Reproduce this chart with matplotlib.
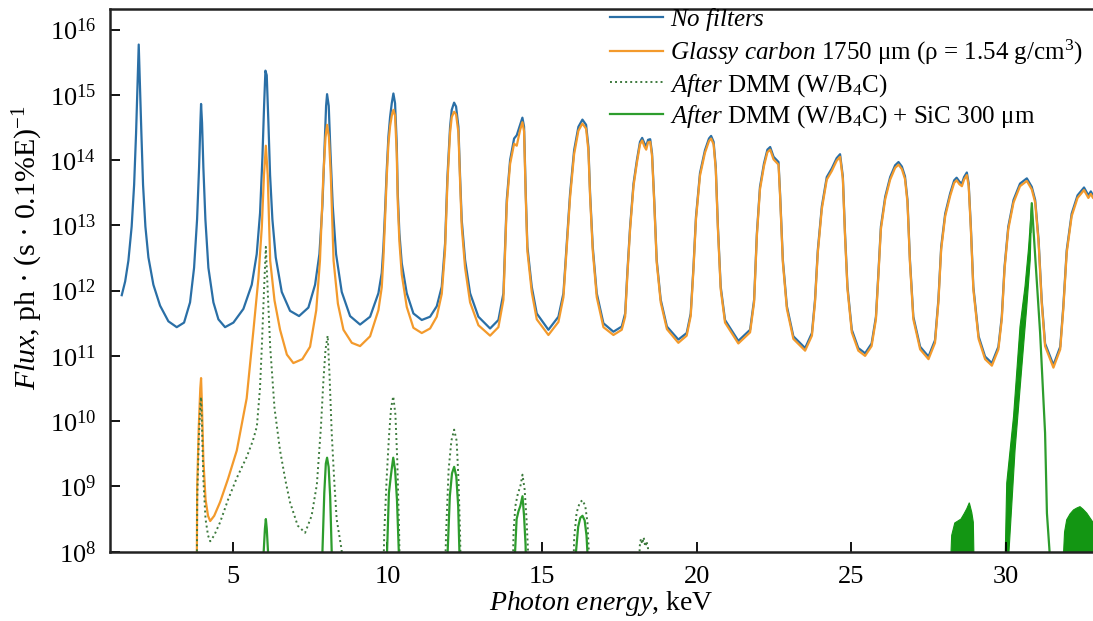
import matplotlib
matplotlib.use("Agg")
import matplotlib.pyplot as plt
import numpy as np

plt.rcParams['font.family'] = ['Liberation Serif', 'DejaVu Serif']
plt.rcParams['mathtext.fontset'] = 'custom'
plt.rcParams['mathtext.rm'] = 'Liberation Serif'
plt.rcParams['mathtext.it'] = 'Liberation Serif:italic'

NAN = float('nan')

# photon energy (keV) and log10 of flux, ph/(s*0.1%E)
# no filters, 1.4-9.1 keV
nofilt_lo_e = [1.41, 1.52, 1.625, 1.73, 1.81, 1.873, 1.916, 1.959, 2.002, 2.045, 2.099, 2.175,
               2.272, 2.433, 2.649, 2.918, 3.188, 3.425, 3.619, 3.749, 3.846, 3.910, 3.953,
               3.975, 4.007, 4.050, 4.115, 4.212, 4.374, 4.536, 4.751, 5.021, 5.344, 5.614,
               5.775, 5.883, 5.959, 6.013, 6.056, 6.099, 6.153, 6.207, 6.282, 6.390, 6.584,
               6.853, 7.144, 7.446, 7.662, 7.802, 7.899, 7.964, 8.018, 8.050, 8.104, 8.158,
               8.233, 8.341, 8.524, 8.794]
nofilt_lo = [11.93, 12.14, 12.46, 12.98, 13.62, 14.41, 15.09, 15.77, 15.09, 14.41, 13.62, 12.98,
             12.51, 12.09, 11.77, 11.53, 11.44, 11.51, 11.82, 12.35, 13.09, 13.88, 14.57, 14.86,
             14.57, 13.88, 13.09, 12.35, 11.82, 11.56, 11.44, 11.51, 11.72, 12.09, 12.56, 13.19,
             14.04, 14.83, 15.37, 15.30, 14.57, 13.77, 13.09, 12.51, 11.98, 11.69, 11.61, 11.74,
             12.09, 12.56, 13.30, 14.14, 14.83, 15.01, 14.83, 14.14, 13.30, 12.56, 11.98, 11.61]

# glassy carbon, below 9.1 keV
carbon_lo_e = [3.83, 3.85, 3.90, 3.95, 3.975, 4.00, 4.05, 4.12, 4.20, 4.27, 4.40, 4.59, 4.85,
               5.13, 5.45, 5.67, 5.83, 5.94, 6.01, 6.07, 6.13, 6.21, 6.35, 6.53, 6.75, 6.96,
               7.25, 7.50, 7.70, 7.82, 7.93, 8.00, 8.05, 8.11, 8.17, 8.26, 8.40, 8.58, 8.85]
carbon_lo = [7.00, 9.00, 9.90, 10.50, 10.66, 10.30, 9.40, 8.80, 8.55, 8.47, 8.55, 8.76, 9.12,
             9.55, 10.35, 11.40, 12.19, 12.98, 13.77, 14.22, 13.77, 12.46, 11.85, 11.40, 11.02,
             10.89, 10.95, 11.14, 11.70, 12.46, 13.77, 14.35, 14.54, 14.35, 13.77, 12.46, 11.80,
             11.40, 11.20]

# shared energies above 9.1 keV
hi_e = [9.117, 9.441, 9.710, 9.818, 9.872, 9.926, 9.980, 10.034, 10.088, 10.142, 10.195, 10.249,
        10.303, 10.336, 10.389, 10.465, 10.627, 10.842, 11.112, 11.381, 11.597, 11.759, 11.866,
        11.942, 12.028, 12.082, 12.158, 12.222, 12.298, 12.352, 12.405, 12.513, 12.675, 12.944,
        13.322, 13.591, 13.753, 13.807, 13.861, 13.969, 14.098, 14.184, 14.292, 14.367, 14.421,
        14.475, 14.529, 14.669, 14.831, 15.208, 15.532, 15.694, 15.801, 15.909, 16.039, 16.178,
        16.308, 16.427, 16.502, 16.556, 16.642, 16.771, 16.987, 17.31, 17.58, 17.69, 17.76,
        17.85, 17.96, 18.07, 18.17, 18.24, 18.31, 18.37, 18.43, 18.50, 18.56, 18.63, 18.71,
        18.84, 19.04, 19.41, 19.68, 19.81, 19.90, 19.98, 20.11, 20.27, 20.40, 20.47, 20.55,
        20.62, 20.69, 20.78, 20.92, 21.35, 21.73, 21.86, 21.95, 22.05, 22.18, 22.29, 22.38,
        22.49, 22.57, 22.65, 22.70, 22.79, 22.92, 23.13, 23.51, 23.73, 23.83, 23.92, 24.05,
        24.21, 24.37, 24.53, 24.64, 24.73, 24.80, 24.88, 25.02, 25.23, 25.45, 25.66, 25.80,
        25.88, 25.96, 26.10, 26.26, 26.42, 26.53, 26.64, 26.74, 26.82, 26.90, 27.01, 27.23,
        27.50, 27.71, 27.82, 27.91, 28.04, 28.20, 28.33, 28.41, 28.50, 28.58, 28.65, 28.74,
        28.80, 28.87, 28.95, 29.12, 29.33, 29.55, 29.76, 29.87, 29.96, 30.08, 30.25, 30.46,
        30.68, 30.84, 30.95, 31.06, 31.16, 31.27, 31.54, 31.76, 31.86, 31.97, 32.13, 32.32,
        32.53, 32.67, 32.75, 32.82, 33.00]
nofilt_hi = [11.48, 11.60, 11.96, 12.27, 12.67, 13.23, 13.85, 14.36, 14.66, 14.87, 15.02, 14.87,
             14.25, 13.49, 12.88, 12.42, 11.96, 11.65, 11.55, 11.60, 11.76, 12.06, 12.72, 13.74,
             14.51, 14.77, 14.88, 14.82, 14.51, 13.74, 13.08, 12.47, 11.96, 11.60, 11.42, 11.55,
             11.96, 12.67, 13.39, 14.00, 14.33, 14.38, 14.54, 14.65, 14.51, 13.49, 12.67, 12.06,
             11.65, 11.40, 11.60, 11.96, 12.72, 13.49, 14.15, 14.51, 14.62, 14.54, 14.20, 13.49,
             12.67, 11.96, 11.50, 11.37, 11.45, 11.65, 12.27, 12.98, 13.64, 14.00, 14.28, 14.34,
             14.26, 14.21, 14.31, 14.32, 14.10, 13.39, 12.47, 11.86, 11.45, 11.25, 11.35, 11.65,
             12.37, 13.13, 13.80, 14.15, 14.33, 14.37, 14.28, 13.90, 12.98, 12.06, 11.55, 11.23,
             11.40, 11.86, 12.88, 13.59, 13.95, 14.16, 14.20, 14.05, 14.01, 13.97, 13.49, 12.47,
             11.76, 11.30, 11.12, 11.35, 11.86, 12.62, 13.29, 13.74, 13.87, 14.03, 14.09, 13.75,
             12.88, 12.06, 11.40, 11.12, 11.04, 11.19, 11.60, 12.27, 12.98, 13.44, 13.74, 13.92,
             13.97, 13.90, 13.75, 13.39, 12.47, 11.60, 11.14, 10.99, 11.24, 11.86, 12.67, 13.18,
             13.49, 13.69, 13.73, 13.67, 13.64, 13.74, 13.81, 13.64, 12.98, 12.06, 11.30, 10.99,
             10.89, 11.14, 11.60, 12.37, 12.98, 13.39, 13.64, 13.72, 13.59, 13.39, 12.78, 11.86,
             11.19, 10.86, 11.14, 11.76, 12.62, 13.18, 13.46, 13.58, 13.46, 13.52, 13.46, 13.40]
carbon_hi = [11.15, 11.30, 11.70, 12.05, 12.50, 13.10, 13.75, 14.25, 14.52, 14.68, 14.77, 14.68,
             14.10, 13.35, 12.75, 12.25, 11.75, 11.43, 11.35, 11.42, 11.60, 11.95, 12.62, 13.65,
             14.42, 14.66, 14.74, 14.70, 14.42, 13.66, 12.98, 12.35, 11.82, 11.47, 11.31, 11.44,
             11.86, 12.60, 13.32, 13.94, 14.25, 14.22, 14.46, 14.58, 14.44, 13.43, 12.60, 11.98,
             11.56, 11.32, 11.52, 11.90, 12.66, 13.43, 14.09, 14.45, 14.56, 14.48, 14.14, 13.44,
             12.61, 11.90, 11.44, 11.32, 11.40, 11.60, 12.22, 12.94, 13.60, 13.96, 14.24, 14.30,
             14.21, 14.16, 14.27, 14.28, 14.06, 13.35, 12.43, 11.82, 11.41, 11.20, 11.31, 11.61,
             12.33, 13.09, 13.76, 14.11, 14.29, 14.33, 14.24, 13.86, 12.94, 12.02, 11.51, 11.19,
             11.36, 11.82, 12.84, 13.55, 13.91, 14.12, 14.16, 14.01, 13.97, 13.93, 13.45, 12.43,
             11.72, 11.26, 11.08, 11.31, 11.82, 12.58, 13.25, 13.70, 13.83, 13.99, 14.05, 13.71,
             12.84, 12.02, 11.36, 11.08, 11.00, 11.15, 11.56, 12.23, 12.94, 13.40, 13.70, 13.88,
             13.93, 13.86, 13.71, 13.35, 12.43, 11.56, 11.10, 10.95, 11.20, 11.82, 12.63, 13.14,
             13.45, 13.65, 13.69, 13.63, 13.60, 13.70, 13.77, 13.60, 12.94, 12.02, 11.26, 10.95,
             10.85, 11.10, 11.56, 12.33, 12.94, 13.35, 13.60, 13.68, 13.55, 13.35, 12.74, 11.82,
             11.15, 10.82, 11.10, 11.72, 12.58, 13.14, 13.42, 13.54, 13.42, 13.48, 13.42, 13.36]

# after the W/B4C multilayer
dmm_e = [3.83, 3.85, 3.90, 3.95, 3.975, 4.00, 4.05, 4.12, 4.20, 4.27, 4.40, 4.59, 4.85, 5.13,
         5.45, 5.65, 5.78, 5.88, 5.94, 6.01, 6.07, 6.13, 6.21, 6.35, 6.53, 6.70, 6.85, 7.10,
         7.34, 7.55, 7.72, 7.85, 7.93, 8.00, 8.07, 8.13, 8.20, 8.28, 8.36, 8.52, 8.65, NAN,
         9.84, 9.90, 9.98, 10.05, 10.12, 10.19, 10.26, 10.32, 10.38, 10.43, NAN,
         11.83, 11.90, 11.98, 12.07, 12.16, 12.24, 12.30, 12.35, 12.40, NAN,
         14.03, 14.08, 14.14, 14.22, 14.30, 14.37, 14.44, 14.50, 14.56, 14.62, NAN,
         15.98, 16.04, 16.12, 16.22, 16.31, 16.40, 16.47, 16.52, 16.58, NAN,
         18.12, 18.16, 18.20, 18.24, 18.29, 18.34, 18.38, 18.43, 18.48]
dmm_lg = [7.00, 8.80, 9.70, 10.25, 10.37, 10.00, 9.10, 8.50, 8.25, 8.16, 8.25, 8.45, 8.80, 9.13,
          9.45, 9.70, 9.92, 10.50, 11.14, 12.00, 12.67, 12.00, 11.14, 10.20, 9.55, 9.10, 8.76,
          8.40, 8.29, 8.55, 9.03, 9.90, 10.61, 11.10, 11.31, 10.70, 9.82, 9.10, 8.50, 8.03,
          7.00, NAN,
          7.00, 8.30, 9.15, 9.75, 10.20, 10.38, 10.10, 9.40, 8.30, 7.00, NAN,
          7.00, 8.30, 9.25, 9.70, 9.87, 9.70, 9.10, 8.30, 7.00, NAN,
          7.00, 8.30, 8.70, 8.89, 9.00, 9.18, 8.95, 8.50, 7.90, 7.00, NAN,
          7.00, 8.20, 8.60, 8.75, 8.79, 8.70, 8.45, 7.95, 7.00, NAN,
          7.00, 8.08, 8.20, 8.12, 8.22, 8.08, 8.16, 8.05, 7.00]

# after the multilayer plus SiC 300 um
sic_e = [5.96, 6.00, 6.04, 6.07, 6.10, 6.14, 6.18, NAN,
         7.86, 7.90, 7.96, 8.01, 8.05, 8.10, 8.15, 8.20, 8.24, NAN,
         9.95, 9.99, 10.05, 10.11, 10.15, 10.19, 10.25, 10.31, 10.37, 10.41, NAN,
         11.90, 11.95, 12.02, 12.09, 12.16, 12.23, 12.29, 12.33, 12.38, NAN,
         14.10, 14.13, 14.18, 14.24, 14.30, 14.37, 14.42, 14.47, 14.52, NAN,
         16.06, 16.10, 16.17, 16.24, 16.31, 16.38, 16.44, 16.48, 16.53, NAN,
         30.80, 30.84, 31.11, 31.27, 31.33, 31.43]
sic_lg = [7.00, 8.00, 8.35, 8.50, 8.35, 8.00, 7.00, NAN,
          7.00, 8.00, 8.90, 9.35, 9.44, 9.30, 8.85, 8.00, 7.00, NAN,
          7.00, 8.00, 8.90, 9.15, 9.30, 9.44, 9.25, 8.80, 8.00, 7.00, NAN,
          7.00, 8.00, 8.85, 9.20, 9.30, 9.15, 8.70, 8.00, 7.00, NAN,
          7.00, 8.00, 8.50, 8.62, 8.70, 8.85, 8.55, 8.10, 7.00, NAN,
          7.00, 8.00, 8.38, 8.52, 8.55, 8.48, 8.25, 7.90, 7.00, NAN,
          12.90, 13.34, 11.35, 9.82, 8.59, 7.90]

# fine structure near 28-33 keV (both multilayer curves)
band_a_e = [28.22, 28.25, 28.35, 28.45, 28.55, 28.65, 28.74, 28.82, 28.90, 28.95, 28.97]
band_a_lg = [7.90, 8.25, 8.44, 8.47, 8.50, 8.58, 8.66, 8.75, 8.60, 8.45, 7.90]
band_b_e = [29.98, 30.03, 30.25, 30.46, 30.62, 30.73, 30.84, 30.79, 30.68, 30.52, 30.30, 30.09]
band_b_lg = [7.90, 9.05, 10.07, 11.45, 12.06, 12.62, 13.34, 12.47, 11.76, 10.84, 9.56, 7.90]
band_c_e = [31.86, 31.90, 31.97, 32.08, 32.19, 32.30, 32.40, 32.50, 32.62, 32.72, 32.82, 33.00, 33.00]
band_c_lg = [7.90, 8.30, 8.49, 8.58, 8.64, 8.67, 8.69, 8.65, 8.59, 8.52, 8.45, 8.40, 7.90]

c_blue = '#2a6fa6'
c_orange = '#f39a2c'
c_dmm = '#3d7a3d'
c_sic = '#2d9d2d'
c_band = '#139613'

fig = plt.figure(figsize=(10.93, 6.21), dpi=100)
ax = fig.add_axes([110 / 1093, (621 - 551.7) / 621, (1093 - 110) / 1093, (551.7 - 9.3) / 621])


def p(v):
    return 10 ** np.array(v, dtype=float)


ax.plot(nofilt_lo_e + hi_e, p(nofilt_lo + nofilt_hi), color=c_blue, lw=1.6,
        label=r'$\mathit{No\ filters}$')
ax.plot(carbon_lo_e + hi_e, p(carbon_lo + carbon_hi), color=c_orange, lw=1.6,
        label=r'$\mathit{Glassy\ carbon}$ 1750 μm (ρ = 1.54 g/cm$^3$)')
ax.plot(dmm_e, p(dmm_lg), color=c_dmm, lw=1.4, ls=(0, (1, 1.6)),
        label=r'$\mathit{After}$ DMM (W/B$_4$C)')
ax.plot(sic_e, p(sic_lg), color=c_sic, lw=1.6,
        label=r'$\mathit{After}$ DMM (W/B$_4$C) + SiC 300 μm')

for be, bl in [(band_a_e, band_a_lg), (band_b_e, band_b_lg), (band_c_e, band_c_lg)]:
    ax.fill(be, p(bl), color=c_band, lw=0.8, ec=c_band)

ax.set_yscale('log')
ax.set_xlim(1.03, 32.82)
ax.set_ylim(1e8, 10 ** 16.31)
ax.set_xticks([5, 10, 15, 20, 25, 30])
ax.set_yticks([10.0 ** k for k in range(8, 17)])
ax.minorticks_off()
ax.tick_params(direction='in', length=7, width=1.3, labelsize=19)
ax.tick_params(axis='x', pad=10)
ax.tick_params(axis='y', pad=10)
for s in ['left', 'bottom', 'top']:
    ax.spines[s].set_linewidth(1.8)
    ax.spines[s].set_color('#222222')
ax.spines['right'].set_visible(False)

ax.set_xlabel(r'$\mathit{Photon\ energy}$, keV', fontsize=20, labelpad=1)
ax.set_ylabel(r'$\mathit{Flux}$, ph · (s · 0.1%E)$^{-1}$', fontsize=21.5)
ax.yaxis.set_label_coords(-0.066, 0.56)

ax.legend(loc='upper left', bbox_to_anchor=(0.556, 0.995), bbox_transform=fig.transFigure,
          frameon=False, fontsize=18, handlelength=2.1, handletextpad=0.3,
          labelspacing=0.2, borderpad=0.1, borderaxespad=0)

fig.savefig('out.png', dpi=100)
